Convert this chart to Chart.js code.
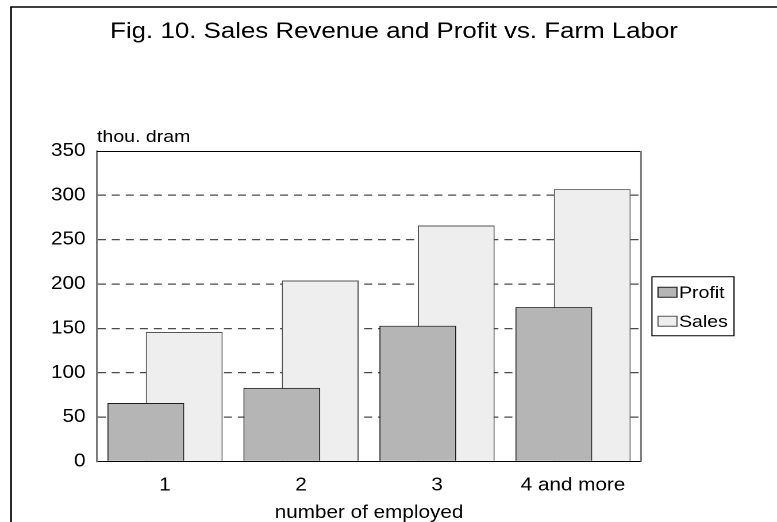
<!DOCTYPE html>
<html>
<head>
<meta charset="utf-8">
<script src="https://cdn.jsdelivr.net/npm/chart.js@4"></script>
<style>
  html, body { margin: 0; padding: 0; background: #fff; overflow: hidden; }
  /* the reference text is a bit wider than Arial, so the whole chart is stretched sideways */
  #wrap { width: 676px; height: 522px; transform: scaleX(1.1494); transform-origin: 0 0; }
</style>
</head>
<body>
<div id="wrap"><canvas id="chart"></canvas></div>
<script>
//categories on the x axis
const categories = ["1", "2", "3", "4 and more"];
//values in thou. dram
const profitValues = [66, 83, 153, 174];
const salesValues = [146, 204, 266, 307];
//y axis range
const yMin = 0;
const yMax = 350;
const yStep = 50;

const fontFamily = "'Liberation Sans', Arial, sans-serif";
Chart.defaults.font.family = fontFamily;
Chart.defaults.color = "#000";

//draws the outer frame, the plot frame, the boxed legend and the unit label
const framePlugin = {
  id: "frames",
  beforeDraw(chart) {
    const ctx = chart.ctx;
    ctx.save();
    ctx.fillStyle = "#fff";
    ctx.fillRect(0, 0, chart.width, chart.height);
    ctx.restore();
  },
  afterDraw(chart) {
    const ctx = chart.ctx;
    const area = chart.chartArea;
    ctx.save();
    //outer frame (only left and top edges are visible)
    ctx.strokeStyle = "#000";
    ctx.lineWidth = 1.5;
    ctx.beginPath();
    ctx.moveTo(9.6, chart.height);
    ctx.lineTo(9.6, 7);
    ctx.lineTo(chart.width, 7);
    ctx.stroke();
    //plot frame top and right
    ctx.lineWidth = 1;
    ctx.strokeStyle = "#000";
    ctx.beginPath();
    ctx.moveTo(area.left, area.top + 0.5);
    ctx.lineTo(area.right, area.top + 0.5);
    ctx.stroke();
    ctx.strokeStyle = "#777";
    ctx.lineWidth = 1.5;
    ctx.beginPath();
    ctx.moveTo(area.right, area.top);
    ctx.lineTo(area.right, area.bottom);
    ctx.stroke();

    //legend box, centred on the plot height
    const boxW = 71.4;
    const boxH = 59;
    const boxX = area.right + 9.5;
    const boxY = (area.top + area.bottom) / 2 - boxH / 2;
    ctx.strokeStyle = "#000";
    ctx.lineWidth = 1;
    ctx.strokeRect(boxX, boxY, boxW, boxH);
    ctx.font = "17px " + fontFamily;
    ctx.textAlign = "left";
    ctx.textBaseline = "middle";
    chart.data.datasets.forEach((ds, i) => {
      const rowY = boxY + 15.5 + i * 29;
      ctx.fillStyle = ds.backgroundColor;
      ctx.fillRect(boxX + 5.3, rowY - 5, 16.5, 10);
      ctx.strokeStyle = ds.borderColor;
      ctx.strokeRect(boxX + 5.3, rowY - 5, 16.5, 10);
      ctx.fillStyle = "#000";
      ctx.fillText(ds.label, boxX + 23.5, rowY + 1);
    });

    //unit label above the y axis
    ctx.font = "17px " + fontFamily;
    ctx.textBaseline = "alphabetic";
    ctx.fillText("thou. dram", area.left, area.top - 9);
    ctx.restore();
  },
};

let myChart = new Chart(document.getElementById("chart"), {
  type: "bar",
  plugins: [framePlugin],
  data: {
    labels: categories,
    datasets: [
      {
        label: "Profit",
        data: profitValues,
        backgroundColor: "#b5b5b5",
        borderColor: "#1e1e1e",
        borderWidth: 1,
        categoryPercentage: 0.565,
        barPercentage: 2.0,
      },
      {
        label: "Sales",
        data: salesValues,
        backgroundColor: "#eeeeee",
        borderColor: "#555555",
        borderWidth: 1,
        categoryPercentage: 0.565,
        barPercentage: 2.0,
      },
    ],
  },
  options: {
    responsive: true,
    maintainAspectRatio: false,
    devicePixelRatio: 2,
    animation: false,
    layout: {
      padding: { left: 10, right: 0.4, top: 0, bottom: 0 },
    },
    plugins: {
      tooltip: { enabled: false },
      legend: { display: false },
      title: {
        display: true,
        text: "Fig. 10. Sales Revenue and Profit vs. Farm Labor",
        color: "#000",
        font: { size: 22.5, weight: "normal" },
        padding: { top: 18.5, bottom: 105.5 },
      },
    },
    scales: {
      x: {
        grid: { display: false, drawTicks: false },
        border: { color: "#000", width: 1 },
        ticks: { font: { size: 18 }, padding: 13, color: "#000" },
        title: {
          display: true,
          text: "number of employed",
          font: { size: 18 },
          color: "#000",
          padding: { top: 0, bottom: -2 },
        },
        afterFit: (scale) => {
          scale.height = 60.5;
        },
      },
      y: {
        min: yMin,
        max: yMax,
        ticks: { stepSize: yStep, font: { size: 18 }, padding: 10, color: "#000" },
        grid: {
          drawTicks: false,
          lineWidth: 1.3,
          color: (ctx) =>
            ctx.tick && (ctx.tick.value === yMin || ctx.tick.value === yMax) ? "rgba(0,0,0,0)" : "#4a4a4a",
        },
        border: { color: "#777", width: 1.5, dash: [7, 5.2] },
        afterFit: (scale) => {
          scale.width = 74.4;
        },
      },
      //empty axis on the right that keeps room for the legend box
      legendSpace: {
        type: "linear",
        position: "right",
        display: true,
        ticks: { display: false },
        grid: { display: false, drawTicks: false },
        border: { display: false },
        afterFit: (scale) => {
          scale.width = 117.9;
        },
      },
    },
  },
});
</script>
</body>
</html>
